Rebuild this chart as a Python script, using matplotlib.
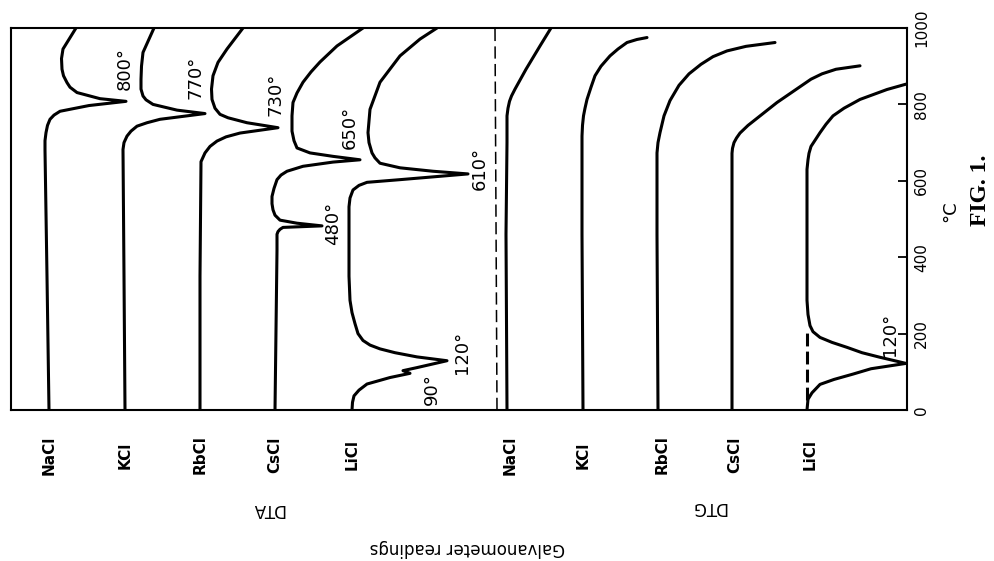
import matplotlib
matplotlib.use("Agg")
import matplotlib.pyplot as plt
import matplotlib.transforms as mtransforms

# ---------------- data ----------------
temp_ticks = [0, 200, 400, 600, 800, 1000]
salts = ["NaCl", "KCl", "RbCl", "CsCl", "LiCl"]

# DTA curves: temperature (deg C) and galvanometer reading (arbitrary units)
dta_nacl_t = [0, 350, 680, 705, 726, 745, 761, 772, 782, 797, 808, 815, 831, 845, 857,
              875, 892, 920, 945, 1000]
dta_nacl_g = [38, 36, 34, 34, 35, 36.5, 39, 43, 49, 78, 115, 89, 66, 59, 56,
              52.5, 51, 50.5, 52, 65]

dta_kcl_t = [0, 350, 682, 700, 717, 730, 743, 752, 761, 776, 785, 800, 812, 822, 840,
             866, 900, 936, 1000]
dta_kcl_g = [114, 113, 112, 113, 116, 120, 126, 136, 149, 194, 166, 142, 135, 132, 130,
             130, 130.5, 132, 143]

dta_rbcl_t = [0, 350, 650, 673, 690, 704, 715, 725, 739, 752, 765, 774, 790, 813, 840,
              875, 910, 945, 1000]
dta_rbcl_g = [189, 189, 190, 194, 199, 206, 215, 229, 267, 236, 217, 209, 204, 201, 200.5,
              202, 207, 216, 232]

dta_cscl_t = [0, 418, 460, 467, 473, 478, 482, 489, 497, 510, 524, 540, 559, 580, 603,
              615, 625, 638, 649, 655, 664, 673, 686, 705, 730, 770, 805, 830, 858,
              885, 911, 953, 1000]
dta_cscl_g = [264, 266, 266, 267, 269, 272, 311, 286, 269, 264, 262, 261, 261, 263, 266,
              270, 276, 292, 322, 349, 322, 299, 286, 283, 281, 281, 282, 286, 292,
              300, 309, 326, 352]

dta_licl_t = [0, 20, 37, 52, 68, 85, 96, 103, 111, 129, 139, 150, 160, 170, 182, 200,
              226, 255, 287, 350, 418, 532, 555, 576, 588, 596, 603, 618, 625, 634,
              646, 660, 673, 700, 726, 787, 858, 927, 971, 1000]
dta_licl_g = [341, 341.5, 343, 348, 356, 379, 399, 392, 406, 436, 406, 384, 369, 359,
              352, 347, 344, 341, 339, 338, 338, 338, 339, 342, 348, 356, 389, 457, 422,
              389, 369, 364, 361, 358, 357, 359, 369, 389, 409, 426]

# DTG curves
dtg_nacl_t = [0, 460, 700, 770, 790, 808, 822, 840, 892, 953, 1000]
dtg_nacl_g = [496, 495, 496, 496, 497, 498.5, 500.5, 504, 515, 529, 540]

dtg_kcl_t = [0, 460, 717, 745, 770, 790, 813, 845, 875, 900, 927, 945, 962, 970, 975]
dtg_kcl_g = [572, 571, 571, 571.5, 572.5, 574, 576, 580, 584, 590, 599, 607, 616, 626, 636]

dtg_rbcl_t = [0, 460, 673, 700, 726, 770, 810, 850, 880, 905, 925, 940, 952, 962]
dtg_rbcl_g = [647, 646, 646, 647, 649, 653, 659, 668, 678, 690, 702, 716, 735, 764]

dtg_cscl_t = [0, 460, 672, 685, 700, 712, 725, 745, 805, 866, 880, 892, 901]
dtg_cscl_g = [721, 721, 721, 721.5, 723, 725.5, 729, 737, 766, 800, 811, 825, 849]

dtg_licl_t = [0, 14, 28, 45, 67, 80, 94, 108, 122, 138, 150, 164, 177, 190, 205, 221,
              250, 287, 550, 630, 655, 672, 690, 706, 726, 748, 770, 790, 813, 839, 853]
dtg_licl_g = [796, 796.5, 797, 801, 809, 823, 842, 860, 895, 869, 851, 836, 821, 809, 802,
              799, 797, 796, 796, 796, 797, 798, 800, 804, 809, 815, 822, 833, 849, 876, 895]

# dashed lines (DTA/DTG separator, LiCl DTG base line)
sep_t = [0, 1000]
sep_g = [486, 484]
licl_base_t = [25, 205]
licl_base_g = [796, 796]

# baseline positions of the salt labels
dta_label_g = [38, 114, 189, 264, 341]
dtg_label_g = [499, 572, 651, 724, 799]

# peak annotations
peak_text = ["800°", "770°", "730°", "650°", "480°", "610°", "120°", "90°", "120°"]
peak_t = [895, 871, 826, 739, 489, 632, 150, 55, 197]
peak_g = [114, 184, 264, 339, 322, 469, 451, 421, 879]

# ---------------- figure ----------------
W, H = 994, 561
fig = plt.figure(figsize=(W / 100, H / 100), dpi=100)
ax = fig.add_axes([11 / W, 1 - 410 / H, (907 - 11) / W, (410 - 28) / H])
ax.set_xlim(0, 896)
ax.set_ylim(0, 1000)

lw = 2.2
style = dict(color="black", lw=lw, solid_capstyle="round", solid_joinstyle="round")
for t, g in [(dta_nacl_t, dta_nacl_g), (dta_kcl_t, dta_kcl_g), (dta_rbcl_t, dta_rbcl_g),
             (dta_cscl_t, dta_cscl_g), (dta_licl_t, dta_licl_g),
             (dtg_nacl_t, dtg_nacl_g), (dtg_kcl_t, dtg_kcl_g), (dtg_rbcl_t, dtg_rbcl_g),
             (dtg_cscl_t, dtg_cscl_g), (dtg_licl_t, dtg_licl_g)]:
    ax.plot(g, t, **style)

ax.plot(sep_g, sep_t, color="black", lw=1.1, dashes=(8, 3.5))
ax.plot(licl_base_g, licl_base_t, color="black", lw=lw, dashes=(4.2, 1.7))

for s in ax.spines.values():
    s.set_linewidth(1.5)

ax.set_xticks([])
ax.set_yticks(temp_ticks)
ax.set_yticklabels([str(v) for v in temp_ticks])
ax.tick_params(axis="y", left=False, right=True, labelleft=False, labelright=True,
               direction="in", length=6.5, width=1.3, pad=5, labelsize=11,
               labelrotation=90)
for lab in ax.get_yticklabels():
    lab.set_verticalalignment("center")

# peak labels
for txt, t, g in zip(peak_text, peak_t, peak_g):
    ax.text(g, t, txt, rotation=90, ha="center", va="center", fontsize=13)

# salt labels below the frame
tr = mtransforms.blended_transform_factory(ax.transData, fig.transFigure)
for name, g in zip(salts, dta_label_g):
    ax.text(g, 1 - 455 / H, name, rotation=90, ha="center", va="center",
            fontsize=11, fontweight="bold", transform=tr, clip_on=False)
for name, g in zip(salts, dtg_label_g):
    ax.text(g, 1 - 455 / H, name, rotation=90, ha="center", va="center",
            fontsize=11, fontweight="bold", transform=tr, clip_on=False)

ax.text(257, 1 - 509 / H, "DTA", rotation=180, ha="center", va="center",
        fontsize=12, transform=tr, clip_on=False)
ax.text(697, 1 - 507 / H, "DTG", rotation=180, ha="center", va="center",
        fontsize=12, transform=tr, clip_on=False)
ax.text(456, 1 - 548 / H, "Galvanometer readings", rotation=180, ha="center",
        va="center", fontsize=12, transform=tr, clip_on=False)

# right-hand texts
tr2 = mtransforms.blended_transform_factory(fig.transFigure, ax.transData)
ax.text(950 / W, 521, "°C", rotation=90, ha="center", va="center", fontsize=13,
        transform=tr2, clip_on=False)
ax.text(981 / W, 576, "FIG. 1.", rotation=90, ha="center", va="center", fontsize=17,
        fontweight="bold", family="Liberation Serif", transform=tr2, clip_on=False)

fig.savefig("out.png", dpi=100)
